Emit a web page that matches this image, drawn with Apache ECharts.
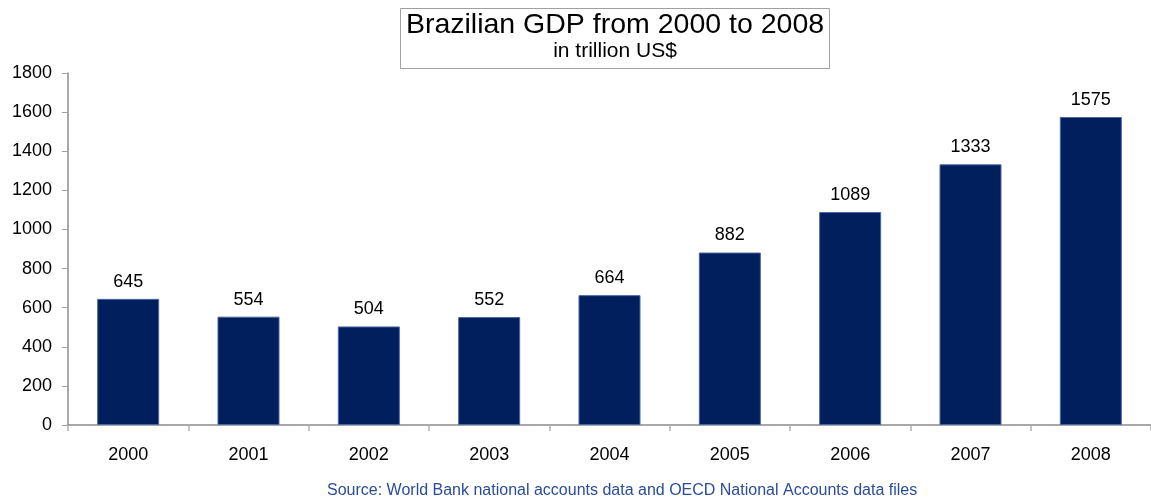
<!DOCTYPE html>
<html>
<head>
<meta charset="utf-8">
<script src="https://cdn.jsdelivr.net/npm/echarts@6/dist/echarts.min.js"></script>
<style>
  html, body { margin: 0; padding: 0; background: #fff; }
  #chart { width: 1151px; height: 499px; }
</style>
</head>
<body>
<div id="chart"></div>
<script>
// Brazilian GDP
const years = ['2000', '2001', '2002', '2003', '2004', '2005', '2006', '2007', '2008'];
const gdp = [645, 554, 504, 552, 664, 882, 1089, 1333, 1575];

const FONT = 'Liberation Sans';

const chart = echarts.init(document.getElementById('chart'));

chart.setOption({
    backgroundColor: '#fff',
    animation: false,
    title: [{
        text: 'Brazilian GDP from 2000 to 2008',
        subtext: 'in trillion US$',
        // textAlign center => group is placed at left + padding, text centred on it
        left: 609,
        top: 8,
        padding: [3, 6, 7, 6],
        itemGap: 1,
        borderColor: '#a0a0a0',
        borderWidth: 1,
        textAlign: 'center',
        textStyle: {
            fontFamily: FONT,
            fontSize: 28.5,
            fontWeight: 'normal',
            color: '#000'
        },
        subtextStyle: {
            fontFamily: FONT,
            fontSize: 21,
            color: '#000'
        }
    }, {
        text: 'Source: World Bank national accounts data and OECD National Accounts data files',
        left: 327,
        top: 483,
        padding: 0,
        textStyle: {
            fontFamily: FONT,
            fontSize: 16,
            fontWeight: 'normal',
            color: '#2b4c9b'
        }
    }],
    grid: {
        left: 68,
        top: 73,
        width: 1088,
        height: 352
    },
    xAxis: {
        type: 'category',
        data: years,
        axisLine: { lineStyle: { color: '#8c8c8c', width: 1.5 } },
        axisTick: { show: true, length: 6, lineStyle: { color: '#b0b0b0', width: 1.5 } },
        axisLabel: {
            margin: 21,
            fontFamily: FONT,
            fontSize: 18,
            color: '#000'
        }
    },
    yAxis: {
        type: 'value',
        min: 0,
        max: 1800,
        interval: 200,
        splitLine: { show: false },
        axisLine: { show: true, lineStyle: { color: '#8c8c8c', width: 1.5 } },
        axisTick: { show: true, length: 6, lineStyle: { color: '#a0a0a0', width: 1 } },
        axisLabel: {
            margin: 16,
            fontFamily: FONT,
            fontSize: 18,
            color: '#000',
            formatter: v => String(v)
        }
    },
    series: [{
        type: 'bar',
        data: gdp,
        barWidth: 62,
        itemStyle: {
            color: '#001f5c',
            borderColor: '#4a66a0',
            borderWidth: 1
        },
        label: {
            show: true,
            position: 'top',
            distance: 8,
            fontFamily: FONT,
            fontSize: 18,
            color: '#000'
        }
    }]
});
</script>
</body>
</html>
